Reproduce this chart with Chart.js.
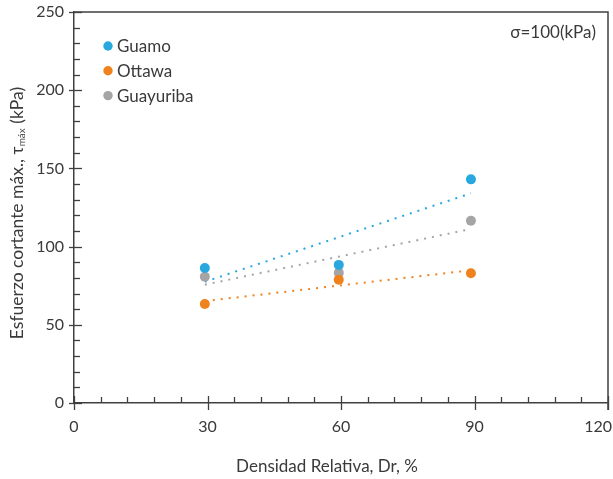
<!DOCTYPE html>
<html><head><meta charset="utf-8">
<script src="https://cdn.jsdelivr.net/npm/chart.js@4"></script>
<style>html,body{margin:0;padding:0;background:#fff}#wrap{width:613px;height:479px}</style>
</head><body><div id="wrap"><canvas id="c" width="613" height="479"></canvas></div>
<script>
// ---- data ----
const densidad = [29.4, 59.5, 89.2];
const guamo = [86.3, 88.3, 143.0];
const ottawa = [63.3, 78.8, 83.0];
const guayuriba = [80.8, 83.2, 116.5];
const seriesNames = ['Guamo', 'Ottawa', 'Guayuriba'];
const xTicks = [0, 30, 60, 90, 120];
const yTicks = [0, 50, 100, 150, 200, 250];
const xTitle = 'Densidad Relativa, Dr, %';
const yTitleMain = 'Esfuerzo cortante máx., τ';
const yTitleSub = 'máx';
const yTitleEnd = ' (kPa)';
const note = 'σ=100(kPa)';

const colors = ['#29a8e0', '#f0821e', '#a5a5a5'];
const TXT = '#3a3a3a';
const FONT = 'Lato, "Open Sans", sans-serif';

function pts(xs, ys){ return xs.map((x,i)=>({x:x, y:ys[i]})); }
function trend(xs, ys){
  const n = xs.length;
  const mx = xs.reduce((a,b)=>a+b,0)/n, my = ys.reduce((a,b)=>a+b,0)/n;
  let sxy=0,sxx=0;
  for(let i=0;i<n;i++){sxy+=(xs[i]-mx)*(ys[i]-my);sxx+=(xs[i]-mx)**2;}
  const b = sxy/sxx, a = my-b*mx;
  const x0 = Math.min(...xs), x1 = Math.max(...xs);
  return [{x:x0,y:a+b*x0},{x:x1,y:a+b*x1}];
}
const allY = [guamo, ottawa, guayuriba];
const orders = [2, 1, 3];

const datasets = [];
allY.forEach((ys,i)=>{
  datasets.push({type:'scatter', label:seriesNames[i], data:pts(densidad, ys),
    backgroundColor:colors[i], borderColor:colors[i], pointRadius:5, pointHoverRadius:5,
    borderWidth:0, order:orders[i]});
});
allY.forEach((ys,i)=>{
  datasets.push({type:'line', label:seriesNames[i]+' trend', data:trend(densidad, ys),
    borderColor:colors[i], borderWidth:2, borderDash:[2,6], pointRadius:0, fill:false,
    order:10});
});

const L = 74, R = 608, T = 12, B = 403;

const deco = {
  id:'deco',
  afterDraw(chart){
    const ctx = chart.ctx, xs = chart.scales.x, ys = chart.scales.y;
    const ca = chart.chartArea;
    ctx.save();
    ctx.strokeStyle = '#404040';
    ctx.lineWidth = 1.5;
    // frame top and right
    ctx.beginPath();
    ctx.moveTo(ca.left, ca.top); ctx.lineTo(ca.right, ca.top); ctx.lineTo(ca.right, ca.bottom + 7);
    ctx.stroke();
    ctx.lineWidth = 1.3;
    // x ticks
    for(let v=0; v<=120; v+=6){
      const px = Math.round(xs.getPixelForValue(v)) + 0.5;
      const major = v % 30 === 0;
      ctx.beginPath();
      ctx.moveTo(px, ca.bottom - (major?7:6));
      ctx.lineTo(px, ca.bottom + (major?7:0));
      ctx.stroke();
    }
    // y ticks
    for(let v=0; v<=250; v+=10){
      const py = Math.round(ys.getPixelForValue(v)) + 0.5;
      const major = v % 50 === 0;
      ctx.beginPath();
      ctx.moveTo(ca.left - (major?5:0), py);
      ctx.lineTo(ca.left + (major?8:6), py);
      ctx.stroke();
    }
    // x tick labels
    ctx.fillStyle = TXT;
    ctx.font = '16px ' + FONT;
    ctx.textBaseline = 'middle';
    xTicks.forEach((v,i)=>{
      const px = xs.getPixelForValue(v);
      if(i === xTicks.length-1){ ctx.textAlign = 'right'; ctx.fillText(String(v), 612, 427); }
      else { ctx.textAlign = 'center'; ctx.fillText(String(v), px, 427); }
    });
    // legend
    ctx.font = '17px ' + FONT;
    ctx.textAlign = 'left';
    seriesNames.forEach((nm,i)=>{
      const cy = 46 + i*24.8;
      ctx.fillStyle = colors[i];
      ctx.beginPath(); ctx.arc(108, cy, 4.7, 0, Math.PI*2); ctx.fill();
      ctx.fillStyle = TXT;
      ctx.fillText(nm, 117, cy + 1);
    });
    // note
    ctx.textAlign = 'right';
    ctx.font = '17px ' + FONT;
    ctx.fillText(note, 596, 33);
    // x title
    ctx.textAlign = 'center';
    ctx.font = '17px ' + FONT;
    ctx.fillText(xTitle, 327, 467);
    // y title with subscript
    ctx.translate(17, 213);
    ctx.rotate(-Math.PI/2);
    const f1 = '17.5px ' + FONT, f2 = '10px ' + FONT;
    ctx.font = f1; const w1 = ctx.measureText(yTitleMain).width;
    const w3 = ctx.measureText(yTitleEnd).width;
    ctx.font = f2; const w2 = ctx.measureText(yTitleSub).width;
    let x = -(w1+w2+w3)/2;
    ctx.textAlign = 'left';
    ctx.font = f1; ctx.fillText(yTitleMain, x, 0); x += w1;
    ctx.font = f2; ctx.fillText(yTitleSub, x, 5); x += w2;
    ctx.font = f1; ctx.fillText(yTitleEnd, x, 0);
    ctx.restore();
  }
};

new Chart(document.getElementById('c'), {
  data:{datasets:datasets},
  options:{
    responsive:false, animation:false, maintainAspectRatio:false,
    layout:{padding:{top:T, right:613-R, left:0, bottom:0}},
    plugins:{legend:{display:false}, tooltip:{enabled:false}},
    scales:{
      x:{type:'linear', min:0, max:120,
        afterBuildTicks(s){ s.ticks = xTicks.map(v=>({value:v})); },
        afterFit(s){ s.height = 479 - B; s.paddingLeft = 0; s.paddingRight = 0; },
        grid:{display:true, drawOnChartArea:false, drawTicks:false},
        border:{display:true, color:'#404040', width:1.5},
        ticks:{display:false}
      },
      y:{type:'linear', min:0, max:250,
        afterBuildTicks(s){ s.ticks = yTicks.map(v=>({value:v})); },
        afterFit(s){ s.width = L; s.paddingTop = 0; s.paddingBottom = 0; },
        grid:{display:true, drawOnChartArea:false, drawTicks:false},
        border:{display:true, color:'#404040', width:1.5},
        ticks:{color:TXT, font:{family:FONT, size:16}, padding:10, autoSkip:false}
      }
    }
  },
  plugins:[deco]
});
</script></body></html>
